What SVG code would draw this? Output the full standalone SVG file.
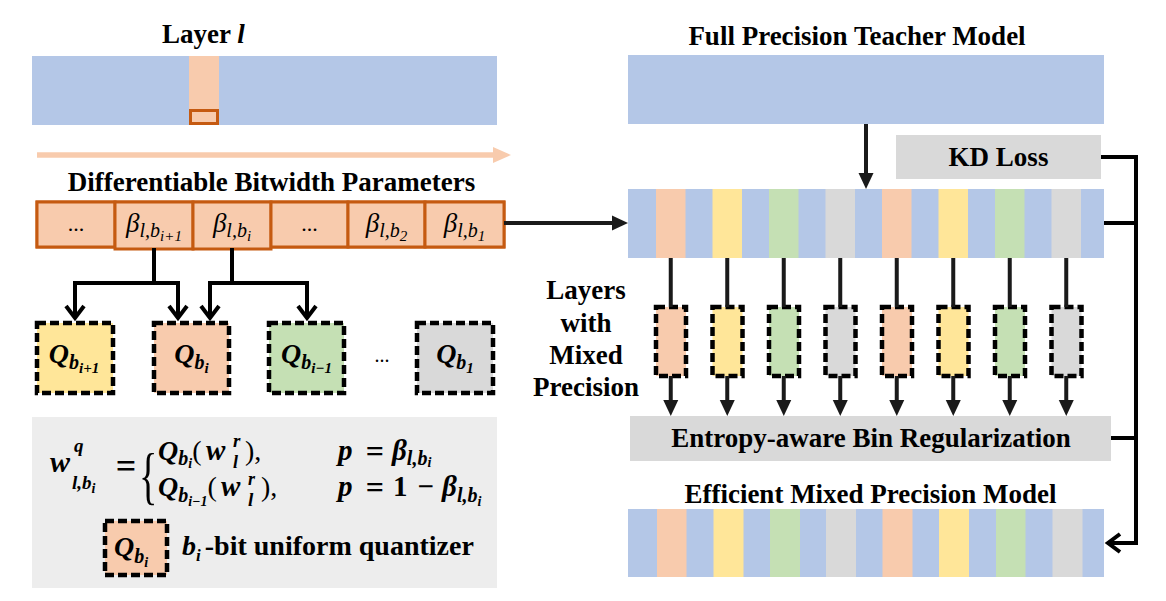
<svg xmlns="http://www.w3.org/2000/svg" width="1166" height="601" viewBox="0 0 1166 601">
<defs>
<style>
.t{font-family:'Liberation Serif','Times New Roman',serif;font-weight:bold;font-size:27px;fill:#000}
.m{font-family:'Liberation Serif','Times New Roman',serif;font-weight:bold;font-style:italic;fill:#000}
.mi{font-family:'Liberation Serif','Times New Roman',serif;font-style:italic;fill:#000}
.r{font-family:'Liberation Serif','Times New Roman',serif;fill:#000}
.blue{fill:#B4C7E7}.or{fill:#F8CBAD}.ye{fill:#FFE699}.gr{fill:#C5E0B4}.gy{fill:#D9D9D9}
.dash{stroke:#000;stroke-width:4.5;stroke-dasharray:9 4}
.cell{fill:#F8CBAD;stroke:#C55A11;stroke-width:3}
.ln{fill:none;stroke:#000;stroke-width:4}
.ln2{fill:none;stroke:#1a1a1a;stroke-width:4}
</style>
<marker id="tri" markerUnits="userSpaceOnUse" orient="auto" markerWidth="20" markerHeight="20" viewBox="-10 -10 20 20" refX="0" refY="0" overflow="visible">
<path d="M-8,-7.5 L8,0 L-8,7.5 Z" fill="#1a1a1a"/>
</marker>
<marker id="chev" markerUnits="userSpaceOnUse" orient="auto" markerWidth="30" markerHeight="30" viewBox="-15 -15 30 30" refX="0" refY="0" overflow="visible">
<path d="M-12,-9 L0,0 L-12,9" fill="none" stroke="#000" stroke-width="4"/>
</marker>
</defs>
<rect width="1166" height="601" fill="#fff"/>

<g id="layer-l">
<text class="t" x="162" y="43">Layer <tspan font-style="italic">l</tspan></text>
<rect class="blue" x="32" y="56" width="465" height="69"/>
<rect class="or" x="189" y="56" width="30" height="69"/>
<rect x="190.5" y="110.5" width="27" height="13" fill="#F8CBAD" stroke="#C55A11" stroke-width="3"/>
</g>

<g id="scan-arrow">
<line x1="37" y1="155" x2="495" y2="155" stroke="#F8CBAD" stroke-width="5.5"/>
<polygon points="493,147 511,155 493,163" fill="#F8CBAD"/>
</g>

<g id="bitwidth-params">
<text class="t" x="271.5" y="191" text-anchor="middle">Differentiable Bitwidth Parameters</text>
<rect class="cell" x="37" y="202" width="467" height="45"/>
<rect class="cell" x="37" y="202" width="78" height="45"/>
<rect class="cell" x="115" y="202" width="78" height="47"/>
<rect class="cell" x="193" y="202" width="78" height="47"/>
<rect class="cell" x="271" y="202" width="77" height="45"/>
<rect class="cell" x="348" y="202" width="77" height="45"/>
<rect class="cell" x="425" y="202" width="79" height="45"/>
<text class="r" x="76" y="231" font-size="22" text-anchor="middle">...</text>
<text class="mi" x="154" y="232" text-anchor="middle"><tspan font-size="27">β</tspan><tspan font-size="20" dy="5">l,b</tspan><tspan font-size="15" dy="4">i+1</tspan></text>
<text class="mi" x="232" y="232" text-anchor="middle"><tspan font-size="27">β</tspan><tspan font-size="20" dy="5">l,b</tspan><tspan font-size="15" dy="4">i</tspan></text>
<text class="r" x="309.5" y="231" font-size="22" text-anchor="middle">...</text>
<text class="mi" x="386.5" y="232" text-anchor="middle"><tspan font-size="27">β</tspan><tspan font-size="20" dy="5">l,b</tspan><tspan font-size="15" dy="4">2</tspan></text>
<text class="mi" x="464.5" y="232" text-anchor="middle"><tspan font-size="27">β</tspan><tspan font-size="20" dy="5">l,b</tspan><tspan font-size="15" dy="4">1</tspan></text>
</g>

<g id="q-bi1">
<rect class="ye dash" x="37" y="323" width="76" height="70"/>
<text class="m" x="74" y="363" text-anchor="middle"><tspan font-size="28">Q</tspan><tspan font-size="20" dy="6">b</tspan><tspan font-size="15" dy="4">i+1</tspan></text>
</g>
<g id="q-bi">
<rect class="or dash" x="154" y="323" width="75" height="70"/>
<text class="m" x="191.5" y="363" text-anchor="middle"><tspan font-size="28">Q</tspan><tspan font-size="20" dy="6">b</tspan><tspan font-size="15" dy="4">i</tspan></text>
</g>
<g id="q-bim1">
<rect class="gr dash" x="269" y="323" width="75" height="70"/>
<text class="m" x="306.5" y="363" text-anchor="middle"><tspan font-size="28">Q</tspan><tspan font-size="20" dy="6">b</tspan><tspan font-size="15" dy="4">i−1</tspan></text>
</g>
<text class="r" x="382" y="362" font-size="20" text-anchor="middle">...</text>
<g id="q-b1">
<rect class="gy dash" x="417" y="323" width="76" height="70"/>
<text class="m" x="455" y="363" text-anchor="middle"><tspan font-size="28">Q</tspan><tspan font-size="20" dy="6">b</tspan><tspan font-size="15" dy="4">1</tspan></text>
</g>

<g id="formula">
<rect x="32" y="417" width="465" height="171" fill="#EDEDED"/>
<text class="m" x="50" y="472" font-size="30">w</text>
<text class="m" x="74" y="452" font-size="19">q</text>
<text class="m" x="72" y="489" font-size="19">l,b<tspan font-size="14" dy="4">i</tspan></text>
<text class="r" x="126" y="478" font-size="36" font-weight="bold" text-anchor="middle">=</text>
<text class="r" font-size="64" transform="translate(139,497) scale(0.6,1)">{</text>
<text class="m" x="158" y="460" font-size="28">Q<tspan font-size="20" dy="5">b</tspan><tspan font-size="14" dy="3">i</tspan><tspan font-style="normal" font-weight="normal" font-size="28" dy="-8">(</tspan></text>
<text class="m" x="206" y="460" font-size="29">w</text>
<text class="m" x="233" y="447" font-size="19">r</text>
<text class="m" x="233" y="468" font-size="18">l</text>
<text class="r" x="245" y="460" font-size="28">),</text>
<text class="m" x="158" y="496" font-size="28">Q<tspan font-size="20" dy="6">b</tspan><tspan font-size="14" dy="4">i−1</tspan><tspan font-style="normal" font-weight="normal" font-size="28" dy="-10">(</tspan></text>
<text class="m" x="221" y="496" font-size="29">w</text>
<text class="m" x="248" y="485" font-size="18">r</text>
<text class="m" x="248" y="506" font-size="19">l</text>
<text class="r" x="261" y="496" font-size="28">),</text>
<text class="m" x="338" y="460" font-size="29">p <tspan font-style="normal" font-size="32" dx="6" dy="2">=</tspan><tspan dx="8" dy="-2">β</tspan><tspan font-size="20" dy="5">l,b</tspan><tspan font-size="14" dy="2">i</tspan></text>
<text class="m" x="338" y="496" font-size="29">p <tspan font-style="normal" font-size="32" dx="6" dy="2">=</tspan><tspan font-style="normal" dx="9" dy="-2">1</tspan><tspan font-style="normal" dx="10">−</tspan><tspan dx="8">β</tspan><tspan font-size="20" dy="6">l,b</tspan><tspan font-size="14" dy="4">i</tspan></text>
<rect class="or dash" x="105" y="521" width="62" height="54"/>
<text class="m" x="114" y="556" font-size="28">Q<tspan font-size="20" dy="7">b</tspan><tspan font-size="14" dy="4">i</tspan></text>
<text class="m" x="182" y="555" font-size="28">b<tspan font-size="17" dy="6">i</tspan><tspan font-style="normal" dx="4" dy="-6">-bit uniform quantizer</tspan></text>
</g>

<g id="teacher">
<text class="t" x="857" y="45" text-anchor="middle">Full Precision Teacher Model</text>
<rect class="blue" x="628" y="55" width="476" height="69"/>
</g>

<g id="kd-loss">
<rect class="gy" x="896" y="135" width="205" height="44"/>
<text class="t" x="998.5" y="166" text-anchor="middle">KD Loss</text>
</g>

<g id="student">
<rect class="blue" x="628" y="189" width="476" height="69"/>
<rect class="or" x="656" y="189" width="29.5" height="69"/>
<rect class="ye" x="712.5" y="189" width="29.5" height="69"/>
<rect class="gr" x="769" y="189" width="29.5" height="69"/>
<rect class="gy" x="825.5" y="189" width="29.5" height="69"/>
<rect class="or" x="882" y="189" width="29.5" height="69"/>
<rect class="ye" x="938.5" y="189" width="29.5" height="69"/>
<rect class="gr" x="995" y="189" width="29.5" height="69"/>
<rect class="gy" x="1051.5" y="189" width="29.5" height="69"/>
</g>

<g id="mixed-layers">
<text class="t" text-anchor="middle"><tspan x="586" y="299">Layers</tspan><tspan x="586" y="332">with</tspan><tspan x="586" y="364">Mixed</tspan><tspan x="586" y="396">Precision</tspan></text>
<rect class="or dash" x="656" y="307" width="30" height="69"/>
<rect class="ye dash" x="712.5" y="307" width="30" height="69"/>
<rect class="gr dash" x="769" y="307" width="30" height="69"/>
<rect class="gy dash" x="825.5" y="307" width="30" height="69"/>
<rect class="or dash" x="882" y="307" width="30" height="69"/>
<rect class="ye dash" x="938.5" y="307" width="30" height="69"/>
<rect class="gr dash" x="995" y="307" width="30" height="69"/>
<rect class="gy dash" x="1051.5" y="307" width="30" height="69"/>
</g>

<g id="ebr">
<rect class="gy" x="630" y="416" width="481" height="45"/>
<text class="t" x="871" y="447" text-anchor="middle">Entropy-aware Bin Regularization</text>
</g>

<g id="efficient">
<text class="t" x="870.5" y="503" text-anchor="middle">Efficient Mixed Precision Model</text>
<rect class="blue" x="628" y="509" width="476" height="68"/>
<rect class="or" x="657" y="509" width="29.5" height="68"/>
<rect class="ye" x="713.5" y="509" width="30" height="68"/>
<rect class="gr" x="770" y="509" width="30" height="68"/>
<rect class="gy" x="826" y="509" width="30" height="68"/>
<rect class="or" x="882.5" y="509" width="30" height="68"/>
<rect class="ye" x="939" y="509" width="30" height="68"/>
<rect class="gr" x="996" y="509" width="29.5" height="68"/>
<rect class="gy" x="1052.5" y="509" width="30" height="68"/>
</g>

<g id="connectors">
<path class="ln" d="M154,248 V283 H75 V318" marker-end="url(#chev)"/>
<path class="ln" d="M154,283 H178 V318" marker-end="url(#chev)"/>
<path class="ln" d="M232,248 V283 H210 V318" marker-end="url(#chev)"/>
<path class="ln" d="M232,283 H307 V318" marker-end="url(#chev)"/>
<path class="ln2" d="M504,223 H620" marker-end="url(#tri)"/>
<path class="ln2" d="M866,124 V181" marker-end="url(#tri)"/>
<path class="ln2" d="M670.75,258 V307 M727.25,258 V307 M783.75,258 V307 M840.25,258 V307 M896.75,258 V307 M953.25,258 V307 M1009.75,258 V307 M1066.25,258 V307"/>
<path class="ln2" d="M670.75,376 V408" marker-end="url(#tri)"/>
<path class="ln2" d="M727.25,376 V408" marker-end="url(#tri)"/>
<path class="ln2" d="M783.75,376 V408" marker-end="url(#tri)"/>
<path class="ln2" d="M840.25,376 V408" marker-end="url(#tri)"/>
<path class="ln2" d="M896.75,376 V408" marker-end="url(#tri)"/>
<path class="ln2" d="M953.25,376 V408" marker-end="url(#tri)"/>
<path class="ln2" d="M1009.75,376 V408" marker-end="url(#tri)"/>
<path class="ln2" d="M1066.25,376 V408" marker-end="url(#tri)"/>
<path class="ln" d="M1101,157 H1136 V543 H1108" marker-end="url(#chev)"/>
<path class="ln" d="M1104,223 H1136"/>
<path class="ln" d="M1111,438 H1136"/>
</g>
</svg>
